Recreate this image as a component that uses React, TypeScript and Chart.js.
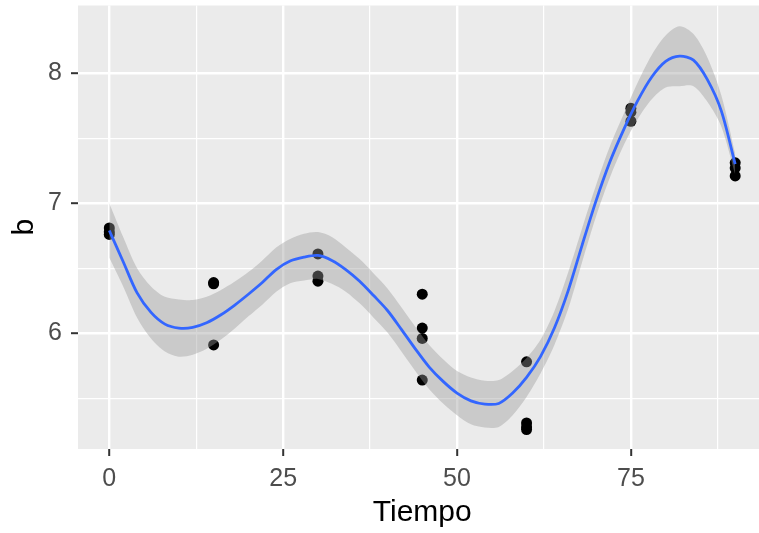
import React, { useEffect, useRef } from "react";
import { Chart, registerables } from "chart.js";

Chart.register(...registerables);

// Observed data points
const tiempoObs = [0, 0, 0, 15, 15, 15, 30, 30, 30, 45, 45, 45, 45, 60, 60, 60, 60, 75, 75, 75, 90, 90, 90];
const bObs = [6.81, 6.78, 6.76, 6.39, 6.38, 5.91, 6.61, 6.44, 6.4, 6.3, 6.04, 5.96, 5.64, 5.78, 5.31, 5.28, 5.26, 7.73, 7.7, 7.63, 7.31, 7.27, 7.21];

// Smooth (loess) curve and its confidence band
const fitX = [0, 2, 4, 6, 8, 10, 12, 14, 16, 18, 20, 22, 24, 26, 28, 30, 32, 34, 36, 38, 40, 42, 44, 46, 48, 50, 52, 54, 56, 58, 60, 62, 64, 66, 68, 70, 72, 74, 76, 78, 80, 82, 84, 86, 88, 90];
const fitY = [6.79, 6.55, 6.31, 6.16, 6.07, 6.04, 6.045, 6.08, 6.14, 6.215, 6.3, 6.39, 6.49, 6.555, 6.585, 6.598, 6.56, 6.49, 6.4, 6.29, 6.175, 6.03, 5.88, 5.74, 5.63, 5.54, 5.48, 5.455, 5.46, 5.54, 5.66, 5.82, 6.04, 6.33, 6.68, 7.02, 7.32, 7.57, 7.79, 7.97, 8.09, 8.13, 8.1, 7.95, 7.71, 7.3];
const fitUpper = [7.0, 6.74, 6.5, 6.36, 6.28, 6.26, 6.255, 6.28, 6.33, 6.395, 6.47, 6.56, 6.66, 6.725, 6.765, 6.778, 6.74, 6.66, 6.57, 6.46, 6.345, 6.2, 6.05, 5.91, 5.8, 5.71, 5.66, 5.635, 5.64, 5.71, 5.81, 5.95, 6.17, 6.47, 6.81, 7.14, 7.44, 7.69, 7.93, 8.14, 8.29, 8.36, 8.3, 8.12, 7.83, 7.38];
const fitLower = [6.58, 6.36, 6.12, 5.96, 5.86, 5.82, 5.835, 5.88, 5.95, 6.035, 6.13, 6.22, 6.32, 6.385, 6.405, 6.418, 6.38, 6.32, 6.23, 6.12, 6.005, 5.86, 5.71, 5.57, 5.46, 5.37, 5.3, 5.275, 5.28, 5.37, 5.51, 5.69, 5.91, 6.19, 6.55, 6.9, 7.2, 7.45, 7.65, 7.8, 7.89, 7.9, 7.9, 7.78, 7.59, 7.22];

// Axis ticks
const xMajorTicks = [0, 25, 50, 75];
const xMinorTicks = [12.5, 37.5, 62.5, 87.5];
const yMajorTicks = [6, 7, 8];
const yMinorTicks = [5.5, 6.5, 7.5];

const FONT = "'Liberation Sans', Arial, Helvetica, sans-serif";

const panelBg = {
  id: "panelBg",
  beforeDraw(chart: any) {
    const { ctx, chartArea } = chart;
    if (!chartArea) return;
    ctx.save();
    ctx.fillStyle = "#EBEBEB";
    ctx.fillRect(chartArea.left, chartArea.top, chartArea.right - chartArea.left, chartArea.bottom - chartArea.top);
    ctx.restore();
  },
};

function isMajor(list: number[], v: number) {
  return list.some((t) => Math.abs(t - v) < 1e-6);
}

export default function App() {
  const ref = useRef<HTMLCanvasElement | null>(null);

  useEffect(() => {
    if (!ref.current) return;
    const chart = new Chart(ref.current, {
      type: "line",
      data: {
        datasets: [
          {
            label: "obs",
            data: tiempoObs.map((x, i) => ({ x, y: bObs[i] })),
            showLine: false,
            pointRadius: 5.5,
            pointBackgroundColor: "#000000",
            pointBorderWidth: 0,
            borderWidth: 0,
            order: 4,
          } as any,
          {
            label: "lower",
            data: fitX.map((x, i) => ({ x, y: fitLower[i] })),
            borderWidth: 0,
            pointRadius: 0,
            fill: false,
            tension: 0.3,
            order: 3,
          },
          {
            label: "upper",
            data: fitX.map((x, i) => ({ x, y: fitUpper[i] })),
            borderWidth: 0,
            pointRadius: 0,
            fill: "-1",
            backgroundColor: "rgba(153,153,153,0.4)",
            tension: 0.3,
            order: 2,
          },
          {
            label: "fit",
            data: fitX.map((x, i) => ({ x, y: fitY[i] })),
            borderColor: "#3366FF",
            borderWidth: 2.8,
            pointRadius: 0,
            fill: false,
            tension: 0.3,
            order: 1,
          },
        ],
      },
      options: {
        responsive: false,
        animation: false,
        layout: { padding: { top: 4, left: 0, right: 0, bottom: 0 } },
        plugins: {
          legend: { display: false },
          tooltip: { enabled: false },
        },
        scales: {
          x: {
            type: "linear",
            min: -4.5,
            max: 94.5,
            afterBuildTicks: (s: any) => {
              s.ticks = [...xMajorTicks, ...xMinorTicks].sort((a, b) => a - b).map((v) => ({ value: v }));
            },
            afterFit: (s: any) => {
              s.height = 84;
              s.paddingLeft = 0;
              s.paddingRight = 0;
            },
            border: { display: false },
            grid: {
              color: "#FFFFFF",
              lineWidth: (c: any) => (isMajor(xMajorTicks, c.tick.value) ? 2.4 : 1.2),
              tickColor: (c: any) => (isMajor(xMajorTicks, c.tick.value) ? "#333333" : "rgba(0,0,0,0)"),
              tickLength: 7,
              tickWidth: 2,
              drawTicks: true,
            },
            ticks: {
              autoSkip: false,
              maxRotation: 0,
              padding: 8,
              color: "#4D4D4D",
              font: { family: FONT, size: 25 },
              callback: (v: any) => (isMajor(xMajorTicks, Number(v)) ? String(v) : ""),
            },
            title: {
              display: true,
              text: "Tiempo",
              color: "#000000",
              font: { family: FONT, size: 30 },
              padding: { top: 0, bottom: 2 },
            },
          },
          y: {
            type: "linear",
            min: 5.11,
            max: 8.52,
            afterBuildTicks: (s: any) => {
              s.ticks = [...yMajorTicks, ...yMinorTicks].sort((a, b) => a - b).map((v) => ({ value: v }));
            },
            afterFit: (s: any) => {
              s.width = 78;
              s.paddingTop = 0;
              s.paddingBottom = 0;
            },
            border: { display: false },
            grid: {
              color: "#FFFFFF",
              lineWidth: (c: any) => (isMajor(yMajorTicks, c.tick.value) ? 2.4 : 1.2),
              tickColor: (c: any) => (isMajor(yMajorTicks, c.tick.value) ? "#333333" : "rgba(0,0,0,0)"),
              tickLength: 7,
              tickWidth: 2,
              drawTicks: true,
            },
            ticks: {
              autoSkip: false,
              padding: 9,
              color: "#4D4D4D",
              font: { family: FONT, size: 25 },
              callback: (v: any) => (isMajor(yMajorTicks, Number(v)) ? String(v) : ""),
            },
            title: {
              display: true,
              text: "b",
              color: "#000000",
              font: { family: FONT, size: 30 },
              padding: { top: 7, bottom: 0 },
            },
          },
        },
      },
      plugins: [panelBg],
    } as any);
    return () => chart.destroy();
  }, []);

  return (
    <div style={{ position: "fixed", left: 0, top: 0, width: 759, height: 533, overflow: "hidden", background: "#FFFFFF" }}>
      <canvas ref={ref} width={772} height={533} style={{ display: "block", width: 772, height: 533 }} />
    </div>
  );
}
